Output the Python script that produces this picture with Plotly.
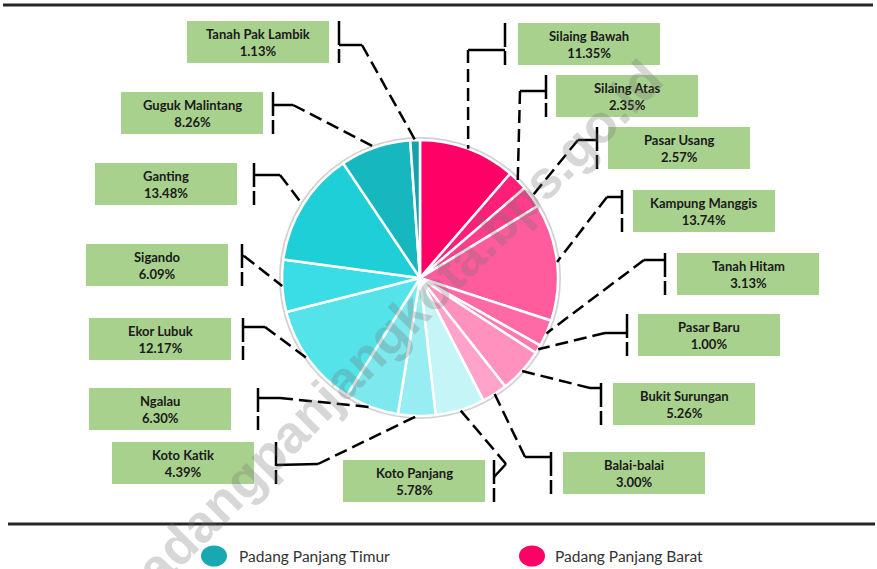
import math
import plotly.graph_objects as go

W, H = 877, 569

# ---------------- data ----------------
barat_names = ["Silaing Bawah", "Silaing Atas", "Pasar Usang", "Kampung Manggis",
               "Tanah Hitam", "Pasar Baru", "Bukit Surungan", "Balai-balai"]
barat_values = [11.35, 2.35, 2.57, 13.74, 3.13, 1.00, 5.26, 3.00]
timur_names = ["Koto Panjang", "Koto Katik", "Ngalau", "Ekor Lubuk",
               "Sigando", "Ganting", "Guguk Malintang", "Tanah Pak Lambik"]
timur_values = [5.78, 4.39, 6.30, 12.17, 6.09, 13.48, 8.26, 1.13]
legend_labels = ["Padang Panjang Timur", "Padang Panjang Barat"]
watermark = "padangpanjangkota.bps.go.id"

# ---------------- styles ----------------
barat_colors = ["#FF0066", "#FF1F78", "#FF3D8B", "#FF5C9E",
                "#FF69A6", "#FF78AF", "#FF91BE", "#FFA3CA"]
timur_colors = ["#C5F5F7", "#98EDF2", "#7DE8EE", "#55E3EA",
                "#3ADDE6", "#1ECFD8", "#17B7BF", "#14A3AA"]
legend_colors = ["#17A9AF", "#FF0066"]
BOX_FILL = "#A9D18E"
BOX_W, BOX_H = 142, 42

# label layout (pixel positions): box top-left, bracket x, tick start y, elbow point
layout_pos = {
    "Tanah Pak Lambik": dict(box=(187, 21), bx=339, ty=45, elbow=(362, 45)),
    "Guguk Malintang": dict(box=(121, 92), bx=273, ty=105, elbow=(293, 105)),
    "Ganting": dict(box=(95, 163), bx=254, ty=175, elbow=(280, 175)),
    "Sigando": dict(box=(86, 244), bx=242, ty=256, elbow=(244, 256)),
    "Ekor Lubuk": dict(box=(89, 318), bx=243, ty=327, elbow=(265, 327)),
    "Ngalau": dict(box=(89, 388), bx=258, ty=398, elbow=(280, 398)),
    "Koto Katik": dict(box=(112, 442), bx=276, ty=465, elbow=(318, 464)),
    "Koto Panjang": dict(box=(343, 460), bx=494, ty=477, elbow=(506, 464)),
    "Balai-balai": dict(box=(563, 452), bx=551, ty=457, elbow=(525, 457)),
    "Bukit Surungan": dict(box=(613, 383), bx=601, ty=388, elbow=(590, 388)),
    "Pasar Baru": dict(box=(638, 314), bx=627, ty=333, elbow=(605, 333)),
    "Tanah Hitam": dict(box=(677, 253), bx=665, ty=260, elbow=(644, 260)),
    "Kampung Manggis": dict(box=(633, 190), bx=622, ty=197, elbow=(607, 197)),
    "Pasar Usang": dict(box=(608, 127), bx=597, ty=140, elbow=(578, 140)),
    "Silaing Atas": dict(box=(556, 75), bx=546, ty=91, elbow=(520, 91)),
    "Silaing Bawah": dict(box=(518, 23), bx=505, ty=50, elbow=(468, 50)),
}

CX, CY, R = 420, 278, 138


def px(x):
    return x / W


def py(y):
    return 1 - y / H


labels = barat_names + timur_names
values = barat_values + timur_values
colors = barat_colors + timur_colors

fig = go.Figure(go.Pie(
    labels=labels, values=values, sort=False, direction="clockwise", rotation=0,
    marker=dict(colors=colors, line=dict(color="white", width=2.5)),
    textinfo="none", hoverinfo="label+percent", showlegend=False,
    domain=dict(x=[px(CX - R), px(CX + R)], y=[py(CY + R), py(CY - R)]),
))

shapes = []
annotations = []

# faint shadow ring around pie
shapes.append(dict(type="circle", xref="paper", yref="paper", layer="below",
                   x0=px(CX - R - 1.5), x1=px(CX + R + 1.5),
                   y0=py(CY + R + 1.5), y1=py(CY - R - 1.5),
                   line=dict(color="rgba(0,0,0,0.18)", width=3)))

# top and bottom rules
shapes.append(dict(type="line", xref="paper", yref="paper",
                   x0=px(3), x1=px(873), y0=py(5), y1=py(5),
                   line=dict(color="#262626", width=3)))
shapes.append(dict(type="line", xref="paper", yref="paper",
                   x0=px(8), x1=px(875), y0=py(524), y1=py(524),
                   line=dict(color="#262626", width=3)))

total = sum(values)
cum = 0.0
for name, val in zip(labels, values):
    mid = (cum + val / 2) / total
    cum += val
    th = 2 * math.pi * mid
    ex_, ey_ = CX + R * math.sin(th), CY - R * math.cos(th)
    p = layout_pos[name]
    bx0, by0 = p["box"]
    # box
    shapes.append(dict(type="rect", xref="paper", yref="paper",
                       x0=px(bx0), x1=px(bx0 + BOX_W), y0=py(by0 + BOX_H), y1=py(by0),
                       fillcolor=BOX_FILL, line=dict(width=0)))
    # bracket
    shapes.append(dict(type="line", xref="paper", yref="paper",
                       x0=px(p["bx"]), x1=px(p["bx"]), y0=py(by0), y1=py(by0 + BOX_H),
                       line=dict(color="black", width=2.5, dash="24px,4px")))
    # tick
    elx, ely = p["elbow"]
    shapes.append(dict(type="line", xref="paper", yref="paper",
                       x0=px(p["bx"]), x1=px(elx), y0=py(p["ty"]), y1=py(ely),
                       line=dict(color="black", width=2.5)))
    # dashed leader
    shapes.append(dict(type="line", xref="paper", yref="paper",
                       x0=px(elx), x1=px(ex_), y0=py(ely), y1=py(ey_),
                       line=dict(color="black", width=2.5, dash="13px,6px")))
    annotations.append(dict(
        xref="paper", yref="paper", x=px(bx0 + BOX_W / 2), y=py(by0 + BOX_H / 2),
        text=f"<b>{name}</b><br><b>{val:.2f}%</b>", showarrow=False,
        font=dict(family="Lato", size=13, color="#1A1A1A"), align="center",
        xanchor="center", yanchor="middle"))

# custom legend
leg_pos = [(214, 556, 237), (532, 556, 553)]
for lab, col, (lx, ly, tx) in zip(legend_labels, legend_colors, leg_pos):
    shapes.append(dict(type="circle", xref="paper", yref="paper",
                       x0=px(lx - 13), x1=px(lx + 13), y0=py(ly + 10.5), y1=py(ly - 10.5),
                       fillcolor=col, line=dict(width=0)))
    annotations.append(dict(xref="paper", yref="paper", x=px(tx), y=py(ly),
                            text=lab, showarrow=False, xanchor="left", yanchor="middle",
                            font=dict(family="Lato", size=15.5, color="#333333")))

# watermark (partly running off the bottom edge, as in the source image)
annotations.append(dict(xref="paper", yref="paper", x=px(387), y=py(335),
                        text=f"<b>{watermark}</b>", showarrow=False, textangle=-45,
                        font=dict(family="Liberation Sans", size=53,
                                  color="rgba(110,110,110,0.28)")))

fig.update_layout(width=W, height=H, margin=dict(l=0, r=0, t=0, b=0),
                  paper_bgcolor="white", plot_bgcolor="white",
                  shapes=shapes, annotations=annotations, showlegend=False)

fig.write_html("out.html", config={"displayModeBar": False},
               post_script="document.body.style.margin='0';document.body.style.overflow='hidden';")
